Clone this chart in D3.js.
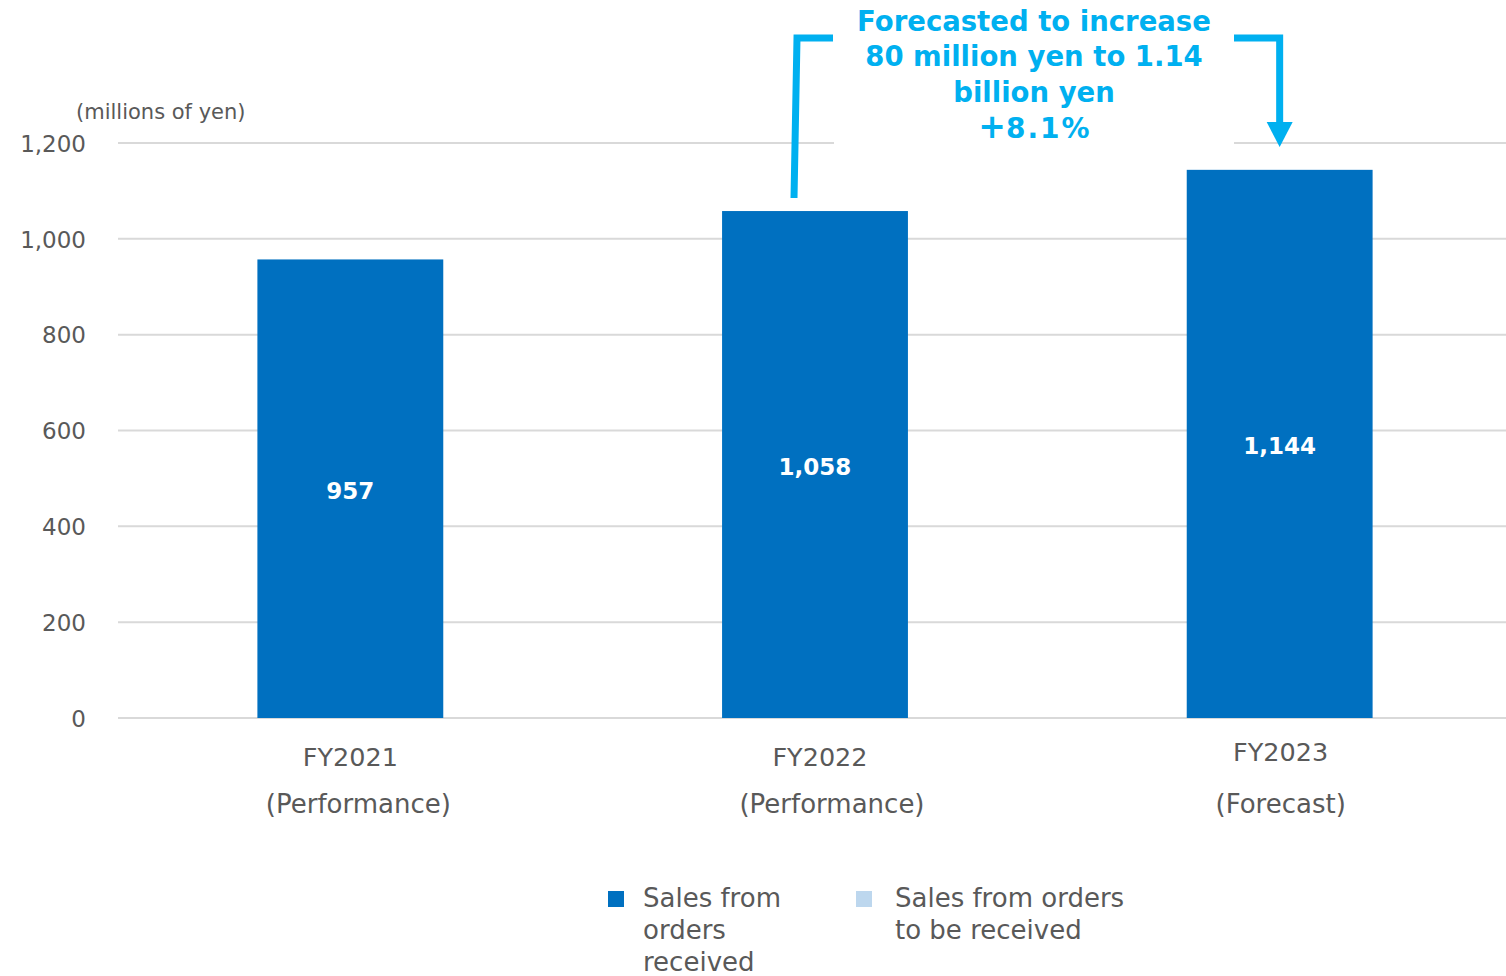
<!DOCTYPE html>
<html>
<head>
<meta charset="utf-8">
<script src="https://cdn.jsdelivr.net/npm/d3@7"></script>
<style>
  html, body { margin: 0; padding: 0; background: #fff; }
  svg { display: block; }
  text { font-family: "DejaVu Sans", Verdana, sans-serif; }
</style>
</head>
<body>
<svg id="chart" width="1506" height="976"></svg>
<script>
// Sales by fiscal year (millions of yen)
const years = ["FY2021", "FY2022", "FY2023"];
const yearNotes = ["(Performance)", "(Performance)", "(Forecast)"];
const salesReceived = [957, 1058, 1144];
const salesToBeReceived = [0, 0, 0];
const yTicks = [0, 200, 400, 600, 800, 1000, 1200];
const seriesNames = ["Sales from orders received", "Sales from orders to be received"];
const calloutLines = ["Forecasted to increase", "80 million yen to 1.14", "billion yen"];
const calloutRate = "8.1%";

const colorReceived = "#0070C0";
const colorToBe = "#BDD7EE";
const accent = "#00B0F0";
const textGrey = "#595959";

const svg = d3.select("#chart");

const x = d3.scaleBand()
  .domain(years)
  .range([118, 1512])
  .paddingInner(0.6)
  .paddingOuter(0.3);

const y = d3.scaleLinear()
  .domain([0, 1200])
  .range([718, 143]);

// gridlines
svg.append("g")
  .selectAll("line")
  .data(yTicks)
  .join("line")
  .attr("x1", 118)
  .attr("x2", 1512)
  .attr("y1", d => y(d))
  .attr("y2", d => y(d))
  .attr("stroke", "#D9D9D9")
  .attr("stroke-width", 2);

// y axis labels
const yAxis = d3.axisLeft(y)
  .tickValues(yTicks)
  .tickSize(0)
  .tickPadding(0)
  .tickFormat(d3.format(","));
const yg = svg.append("g").attr("transform", "translate(86,0)").call(yAxis);
yg.select(".domain").remove();
yg.selectAll("text")
  .attr("font-size", 23)
  .attr("fill", textGrey)
  .attr("font-family", "DejaVu Sans, Verdana, sans-serif")
  .attr("dy", "0.36em");

svg.append("text")
  .attr("x", 76)
  .attr("y", 119)
  .attr("font-size", 21)
  .attr("fill", textGrey)
  .text("(millions of yen)");

// stacked bars: received + to be received
const rows = years.map((yr, i) => ({ yr, a: salesReceived[i], b: salesToBeReceived[i] }));

svg.append("g")
  .selectAll("rect.recv")
  .data(rows)
  .join("rect")
  .attr("class", "recv")
  .attr("x", d => x(d.yr))
  .attr("width", x.bandwidth())
  .attr("y", d => y(d.a))
  .attr("height", d => y(0) - y(d.a))
  .attr("fill", colorReceived);

svg.append("g")
  .selectAll("rect.tobe")
  .data(rows.filter(d => d.b > 0))
  .join("rect")
  .attr("class", "tobe")
  .attr("x", d => x(d.yr))
  .attr("width", x.bandwidth())
  .attr("y", d => y(d.a + d.b))
  .attr("height", d => y(d.a) - y(d.a + d.b))
  .attr("fill", colorToBe);

// value labels in bar middle
svg.append("g")
  .selectAll("text")
  .data(rows)
  .join("text")
  .attr("x", d => x(d.yr) + x.bandwidth() / 2)
  .attr("y", d => (y(d.a) + y(0)) / 2 + 2)
  .attr("dy", "0.36em")
  .attr("text-anchor", "middle")
  .attr("font-size", 23)
  .attr("font-weight", "bold")
  .attr("fill", "#fff")
  .text(d => d3.format(",")(d.a));

// category labels
const catOffsets = [0, 5, 1];
const catY1 = [757, 757, 752];
const noteOffsets = [8, 17, 1];
const cat = svg.append("g");
years.forEach((yr, i) => {
  const cx = x(yr) + x.bandwidth() / 2;
  cat.append("text")
    .attr("x", cx + catOffsets[i])
    .attr("y", catY1[i])
    .attr("dy", "0.36em")
    .attr("text-anchor", "middle")
    .attr("font-size", 25.5)
    .attr("fill", textGrey)
    .text(yr);
  cat.append("text")
    .attr("x", cx + noteOffsets[i])
    .attr("y", 804)
    .attr("dy", "0.36em")
    .attr("text-anchor", "middle")
    .attr("font-size", 26)
    .attr("fill", textGrey)
    .text(yearNotes[i]);
});

// callout: growth from FY2022 to FY2023
const bx2 = x("FY2022") + x.bandwidth() / 2;
const bx3 = x("FY2023") + x.bandwidth() / 2;
const callout = svg.append("g");
callout.append("rect")
  .attr("x", 834).attr("y", 0)
  .attr("width", 400).attr("height", 150)
  .attr("fill", "#fff");
callout.append("path")
  .attr("d", `M${bx2 - 21},198 L${bx2 - 18},38 L833,38`)
  .attr("fill", "none")
  .attr("stroke", accent)
  .attr("stroke-width", 7)
  .attr("stroke-linejoin", "miter");
callout.append("path")
  .attr("d", `M1234,38 L${bx3},38 L${bx3},124`)
  .attr("fill", "none")
  .attr("stroke", accent)
  .attr("stroke-width", 7)
  .attr("stroke-linejoin", "miter");
callout.append("path")
  .attr("d", `M${bx3 - 13},122 L${bx3 + 13},122 L${bx3},147 Z`)
  .attr("fill", accent);
callout.selectAll("text.line")
  .data(calloutLines)
  .join("text")
  .attr("class", "line")
  .attr("x", 1034)
  .attr("y", (d, i) => 21 + i * 35.5)
  .attr("dy", "0.36em")
  .attr("text-anchor", "middle")
  .attr("font-size", 27.5)
  .attr("font-weight", "bold")
  .attr("fill", accent)
  .text(d => d);
const rate = callout.append("text")
  .attr("x", 1035)
  .attr("y", 128 + 10)
  .attr("text-anchor", "middle")
  .attr("font-size", 28)
  .attr("font-weight", "bold")
  .attr("fill", accent);
rate.append("tspan").attr("font-size", 33).text("+");
rate.append("tspan").attr("font-size", 28).attr("letter-spacing", 2).text(calloutRate);

// legend
const legend = svg.append("g");
const legendItems = [
  { color: colorReceived, x: 608, tx: 643, lines: ["Sales from", "orders", "received"] },
  { color: colorToBe, x: 856, tx: 895, lines: ["Sales from orders", "to be received"] }
];
legendItems.forEach(it => {
  legend.append("rect")
    .attr("x", it.x).attr("y", 891)
    .attr("width", 16).attr("height", 16)
    .attr("fill", it.color);
  it.lines.forEach((ln, j) => {
    legend.append("text")
      .attr("x", it.tx)
      .attr("y", 898 + j * 32)
      .attr("dy", "0.36em")
      .attr("font-size", 26)
      .attr("fill", textGrey)
      .text(ln);
  });
});
</script>
</body>
</html>
